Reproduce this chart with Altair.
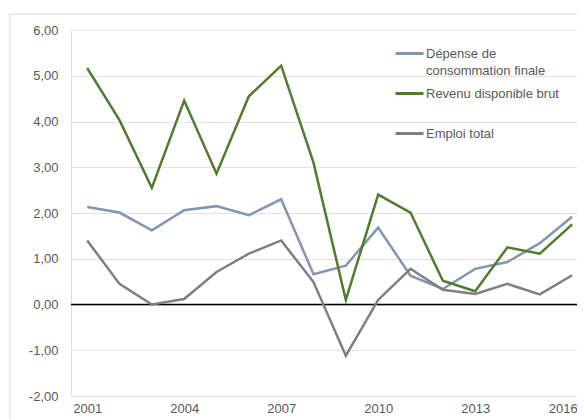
import altair as alt
import pandas as pd

years = list(range(2001, 2017))
depense = [2.13, 2.01, 1.62, 2.06, 2.15, 1.95, 2.30, 0.66, 0.85, 1.68, 0.63, 0.34, 0.78, 0.93, 1.34, 1.92]
revenu = [5.17, 4.03, 2.55, 4.46, 2.86, 4.55, 5.22, 3.10, 0.10, 2.40, 2.01, 0.52, 0.29, 1.25, 1.11, 1.75]
emploi = [1.40, 0.45, 0.00, 0.12, 0.71, 1.11, 1.40, 0.49, -1.12, 0.10, 0.78, 0.32, 0.23, 0.45, 0.22, 0.64]

series_names = ["Dépense de consommation finale", "Revenu disponible brut", "Emploi total"]
series_colors = ["#7f96b4", "#4e7d2e", "#7f7f7f"]
x_ticks = [2001, 2004, 2007, 2010, 2013, 2016]
y_ticks = [-2, -1, 0, 1, 2, 3, 4, 5, 6]

rows = []
for name, vals in zip(series_names, [depense, revenu, emploi]):
    for y, v in zip(years, vals):
        rows.append({"annee": y, "valeur": v, "serie": name})
df = pd.DataFrame(rows)

FONT = "Liberation Sans"
TXT = "#595959"

frame = alt.Chart(pd.DataFrame({"a": [0]})).mark_rect(
    fill=None, stroke="#d9d9d9", strokeWidth=1
).encode(x=alt.value(-61), x2=alt.value(620), y=alt.value(-16), y2=alt.value(500))

zero = alt.Chart(pd.DataFrame({"y": [0]})).mark_rule(color="black", strokeWidth=1.5).encode(
    y=alt.Y("y:Q", scale=alt.Scale(domain=[-2, 6]))
)

legend_expr = (
    "datum.label == 'Dépense de consommation finale' ? ['Dépense de', 'consommation finale'] "
    ": [datum.label, '']"
)

lines = alt.Chart(df).mark_line(strokeWidth=2.5).encode(
    x=alt.X(
        "annee:Q",
        scale=alt.Scale(domain=[2000.5, 2016.15], nice=False, zero=False),
        axis=alt.Axis(
            values=x_ticks, format="d", title=None, grid=False, ticks=False, domain=False,
            labelPadding=6, labelFontSize=13, labelColor=TXT, labelFont=FONT, labelFlush=False,
            labelLineHeight=13,
            labelAlign=alt.condition("datum.value == 2016", alt.value("right"), alt.value("center")),
            labelOffset=alt.condition("datum.value == 2016", alt.value(5), alt.value(0)),
        ),
    ),
    y=alt.Y(
        "valeur:Q",
        scale=alt.Scale(domain=[-2, 6], nice=False),
        axis=alt.Axis(
            values=y_ticks, title=None, ticks=False, domain=False, labelPadding=13,
            labelLineHeight=13,
            labelExpr="replace(replace(format(datum.value, '.2f'), '.', ','), '\u2212', '-')",
            labelFontSize=13, labelColor=TXT, labelFont=FONT,
            gridColor="#e3e3e3", gridWidth=1.2,
        ),
    ),
    color=alt.Color(
        "serie:N",
        scale=alt.Scale(domain=series_names, range=series_colors),
        legend=alt.Legend(
            title=None, orient="none", legendX=323, legendY=8,
            symbolType="stroke", symbolSize=784, symbolStrokeWidth=3,
            labelFontSize=13, labelColor=TXT, labelFont=FONT, labelLimit=300,
            rowPadding=-1, labelOffset=1,
            labelExpr=legend_expr,
        ),
    ),
)

chart = alt.layer(frame, zero, lines).properties(
    width=506, height=366,
    autosize=alt.AutoSizeParams(type="none"),
    padding={"left": 63, "top": 22, "right": 0, "bottom": 22},
).configure_view(stroke=None).configure(
    background="white", style={"guide-label": {"lineHeight": 17}}
)

chart.save("out.html", embed_options={"renderer": "svg", "actions": False})
